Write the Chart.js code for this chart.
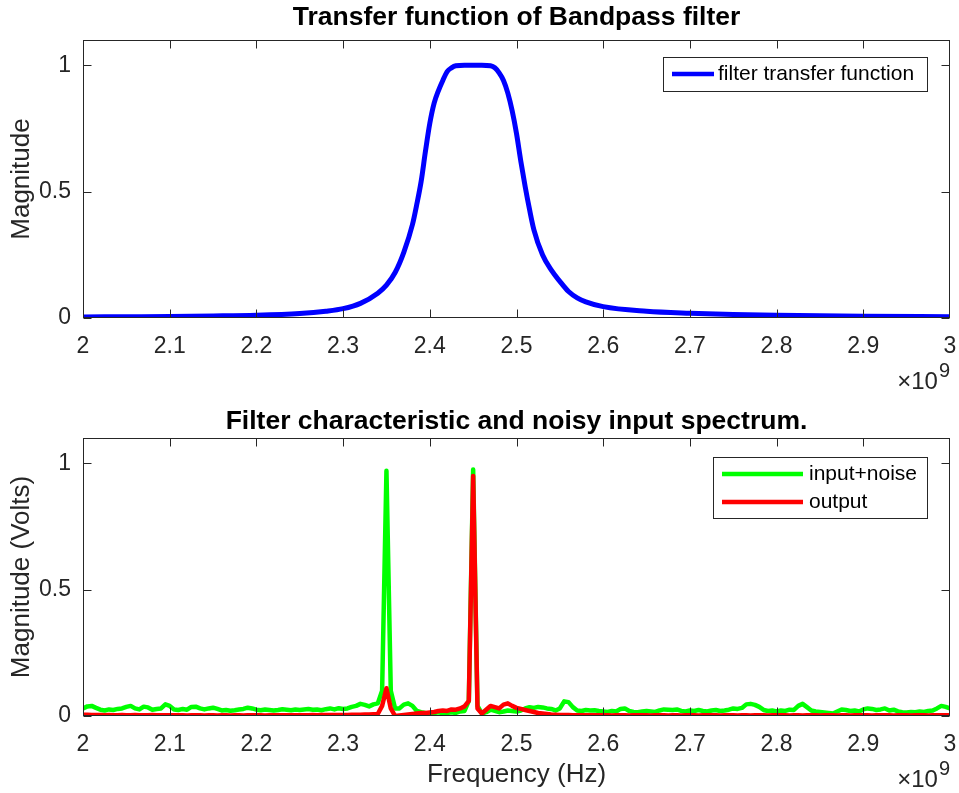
<!DOCTYPE html>
<html>
<head>
<meta charset="utf-8">
<script src="https://cdn.jsdelivr.net/npm/chart.js@4/dist/chart.umd.min.js"></script>
<style>
html,body{margin:0;padding:0;background:#fff;width:959px;height:793px;overflow:hidden}
#w1{position:absolute;left:0;top:0;width:959px;height:398px}
#w2{position:absolute;left:0;top:398px;width:959px;height:395px}
</style>
</head>
<body>
<div id="w1"><canvas id="c1" width="959" height="398"></canvas></div>
<div id="w2"><canvas id="c2" width="959" height="395"></canvas></div>
<script>
// ---------- DATA ----------
const xTicks = [2, 2.1, 2.2, 2.3, 2.4, 2.5, 2.6, 2.7, 2.8, 2.9, 3];
const yTicks = [0, 0.5, 1];

// Top: filter transfer function (frequency in units of 1e9 Hz)
const tfFreq = [2.00,2.05,2.10,2.15,2.20,2.25,2.28,2.30,2.32,2.34,2.35,2.36,2.37,2.38,2.385,2.39,2.395,2.40,2.405,2.41,2.415,2.42,2.425,2.43,2.44,2.45,2.46,2.47,2.475,2.48,2.485,2.49,2.495,2.50,2.505,2.51,2.515,2.52,2.53,2.54,2.55,2.56,2.57,2.58,2.60,2.65,2.70,2.75,2.80,2.90,3.00];
const tfMag = [0.004,0.005,0.006,0.008,0.011,0.018,0.027,0.037,0.058,0.098,0.13,0.18,0.26,0.37,0.45,0.54,0.66,0.77,0.85,0.90,0.94,0.975,0.99,0.998,1.0,1.0,1.0,0.998,0.99,0.97,0.94,0.89,0.82,0.73,0.62,0.52,0.43,0.35,0.25,0.19,0.145,0.105,0.08,0.064,0.045,0.027,0.019,0.014,0.011,0.007,0.005];

// Bottom: spectrum sampled from 2.000 to 3.000 (x1e9 Hz) every 0.005
const specStart = 2.0, specStep = 0.005;
const inputNoise = [
0.030,0.038,0.040,0.032,0.025,0.022,0.026,0.024,0.028,0.030,
0.036,0.040,0.030,0.026,0.037,0.034,0.025,0.028,0.030,0.046,
0.040,0.026,0.024,0.028,0.025,0.036,0.037,0.030,0.026,0.030,
0.033,0.028,0.022,0.024,0.021,0.023,0.026,0.028,0.033,0.030,
0.025,0.023,0.026,0.024,0.022,0.024,0.027,0.025,0.023,0.026,
0.024,0.026,0.028,0.025,0.026,0.023,0.027,0.030,0.026,0.031,
0.028,0.030,0.036,0.040,0.048,0.044,0.038,0.046,0.050,0.100,
0.970,0.100,0.030,0.030,0.045,0.050,0.040,0.020,0.015,0.012,
0.010,0.012,0.015,0.010,0.012,0.015,0.012,0.018,0.020,0.060,
0.975,0.040,0.010,0.015,0.025,0.020,0.015,0.018,0.022,0.020,
0.018,0.022,0.030,0.035,0.032,0.036,0.034,0.030,0.028,0.022,
0.030,0.058,0.055,0.035,0.022,0.020,0.024,0.022,0.023,0.020,
0.018,0.016,0.020,0.018,0.028,0.030,0.020,0.016,0.015,0.018,
0.020,0.018,0.016,0.022,0.026,0.025,0.024,0.026,0.020,0.018,
0.022,0.020,0.024,0.020,0.018,0.022,0.024,0.020,0.022,0.025,
0.030,0.028,0.032,0.046,0.048,0.044,0.036,0.024,0.020,0.022,
0.018,0.022,0.020,0.025,0.024,0.040,0.048,0.035,0.022,0.018,
0.016,0.014,0.012,0.010,0.018,0.026,0.024,0.020,0.022,0.018,
0.026,0.030,0.028,0.024,0.026,0.030,0.022,0.025,0.018,0.015,
0.014,0.016,0.015,0.018,0.016,0.020,0.022,0.030,0.040,0.036,
0.030];
const outputSig = [
0.005,0.005,0.004,0.004,0.004,0.003,0.004,0.003,0.003,0.004,
0.003,0.003,0.004,0.003,0.003,0.003,0.004,0.003,0.003,0.003,
0.003,0.003,0.003,0.003,0.002,0.003,0.003,0.003,0.002,0.003,
0.003,0.002,0.003,0.003,0.002,0.003,0.003,0.002,0.003,0.003,
0.003,0.003,0.002,0.003,0.003,0.003,0.003,0.003,0.003,0.003,
0.003,0.003,0.003,0.004,0.003,0.004,0.004,0.004,0.004,0.004,
0.004,0.004,0.005,0.005,0.005,0.006,0.006,0.007,0.008,0.040,
0.110,0.030,0.000,0.002,0.004,0.006,0.008,0.010,0.012,0.012,
0.014,0.016,0.020,0.022,0.020,0.026,0.025,0.030,0.038,0.060,
0.950,0.030,0.010,0.025,0.040,0.035,0.030,0.045,0.050,0.040,
0.032,0.028,0.024,0.020,0.016,0.012,0.010,0.008,0.006,0.005,
0.004,0.004,0.004,0.003,0.003,0.003,0.003,0.003,0.003,0.003,
0.003,0.003,0.002,0.003,0.003,0.003,0.002,0.003,0.003,0.003,
0.003,0.002,0.003,0.003,0.003,0.002,0.003,0.003,0.002,0.003,
0.003,0.003,0.002,0.003,0.003,0.003,0.003,0.002,0.003,0.003,
0.003,0.002,0.003,0.003,0.002,0.003,0.003,0.003,0.002,0.003,
0.003,0.003,0.003,0.002,0.003,0.003,0.002,0.003,0.003,0.003,
0.002,0.003,0.003,0.003,0.002,0.003,0.003,0.002,0.003,0.003,
0.003,0.003,0.002,0.003,0.003,0.003,0.003,0.002,0.003,0.003,
0.003,0.002,0.003,0.003,0.003,0.002,0.003,0.003,0.003,0.003,
0.003];
const specFreq = inputNoise.map((_, i) => +(specStart + i * specStep).toFixed(3));

// ---------- STYLE / HELPERS ----------
const FONT = "'Liberation Sans', Arial, Helvetica, sans-serif";
const AX = '#262626';
const fmt = v => String(Math.round(v * 10) / 10);

const matlabPlugin = {
  id: 'matlab',
  afterDraw(chart, args, o) {
    const ctx = chart.ctx, a = chart.chartArea, xs = chart.scales.x, ys = chart.scales.y;
    ctx.save();
    ctx.strokeStyle = AX; ctx.lineWidth = 1;
    const L = Math.round(a.left) + 0.5, T = Math.round(a.top) + 0.5;
    const R = Math.round(a.right) - 0.5, B = Math.round(a.bottom) - 0.5;
    ctx.strokeRect(L, T, R - L, B - T);
    const tl = 8;
    ctx.beginPath();
    xs.ticks.forEach(t => {
      let p = Math.round(xs.getPixelForValue(t.value)) + 0.5;
      p = Math.min(Math.max(p, L), R);
      ctx.moveTo(p, B); ctx.lineTo(p, B - tl);
      ctx.moveTo(p, T); ctx.lineTo(p, T + tl);
    });
    ys.ticks.forEach(t => {
      const p = Math.round(ys.getPixelForValue(t.value)) + 0.5;
      ctx.moveTo(L, p); ctx.lineTo(L + tl, p);
      ctx.moveTo(R, p); ctx.lineTo(R - tl, p);
    });
    ctx.stroke();

    const cx = (a.left + a.right) / 2;
    // title
    ctx.fillStyle = '#000';
    ctx.font = 'bold 26.5px ' + FONT;
    ctx.textAlign = 'center'; ctx.textBaseline = 'middle';
    ctx.fillText(o.title, cx, o.titleY);
    // x label
    ctx.fillStyle = AX;
    if (o.xlabel) {
      ctx.font = '26px ' + FONT;
      ctx.fillText(o.xlabel, cx, a.bottom + 59);
    }
    // y label
    ctx.save();
    ctx.translate(22, (a.top + a.bottom) / 2);
    ctx.rotate(-Math.PI / 2);
    ctx.font = '26px ' + FONT;
    ctx.fillText(o.ylabel, 0, 0);
    ctx.restore();
    // exponent x10^9
    ctx.textAlign = 'right';
    ctx.font = '20px ' + FONT;
    ctx.fillText('9', a.right, a.bottom + 53);
    const w9 = ctx.measureText('9').width;
    ctx.font = '24px ' + FONT;
    ctx.fillText('\u00D710', a.right - w9 - 1, a.bottom + 64);

    // legend
    const lg = o.legend;
    ctx.fillStyle = '#fff';
    ctx.fillRect(lg.x, lg.y, lg.w, lg.h);
    ctx.strokeStyle = AX; ctx.lineWidth = 1;
    ctx.strokeRect(lg.x + 0.5, lg.y + 0.5, lg.w, lg.h);
    ctx.font = '21px ' + FONT;
    ctx.textAlign = 'left'; ctx.textBaseline = 'middle';
    lg.items.forEach((idx, k) => {
      const ds = chart.data.datasets[idx];
      const yy = lg.y + lg.first + k * lg.gap;
      ctx.strokeStyle = ds.borderColor; ctx.lineWidth = 4.5; ctx.lineCap = 'butt';
      ctx.beginPath(); ctx.moveTo(lg.x + lg.l0, yy); ctx.lineTo(lg.x + lg.l1, yy); ctx.stroke();
      ctx.fillStyle = '#000';
      ctx.fillText(ds.label, lg.x + lg.tx, yy);
    });
    ctx.restore();
  }
};

const zeroPad = s => { s.paddingLeft = 0; s.paddingRight = 0; s.paddingTop = 0; s.paddingBottom = 0; };

function makeOptions(areaBottom, canvasH, pluginOpts) {
  return {
    responsive: false, animation: false, devicePixelRatio: 1,
    layout: { autoPadding: false, padding: { left: 0, right: 9, top: 40, bottom: 0 } },
    plugins: { legend: { display: false }, tooltip: { enabled: false }, title: { display: false }, matlab: pluginOpts },
    elements: { point: { radius: 0 } },
    scales: {
      x: {
        type: 'linear', min: 2, max: 3,
        afterBuildTicks: s => { s.ticks = xTicks.map(v => ({ value: v })); },
        afterFit: s => { s.height = canvasH - areaBottom; zeroPad(s); },
        grid: { display: false, drawTicks: false }, border: { display: false },
        ticks: { padding: 15, color: AX, font: { family: FONT, size: 23 }, maxRotation: 0, autoSkip: false, callback: v => fmt(v) }
      },
      y: {
        type: 'linear', min: 0, max: 1.1,
        afterBuildTicks: s => { s.ticks = yTicks.map(v => ({ value: v })); },
        afterFit: s => { s.width = 83; zeroPad(s); },
        grid: { display: false, drawTicks: false }, border: { display: false },
        ticks: { padding: 12, color: AX, font: { family: FONT, size: 23 }, callback: v => fmt(v) }
      }
    }
  };
}

new Chart(document.getElementById('c1'), {
  type: 'line',
  data: {
    datasets: [{
      label: 'filter transfer function',
      data: tfFreq.map((f, i) => ({ x: f, y: tfMag[i] })),
      borderColor: '#0000ff', borderWidth: 5, cubicInterpolationMode: 'monotone',
      borderJoinStyle: 'round', fill: false
    }]
  },
  options: makeOptions(318, 398, {
    title: 'Transfer function of Bandpass filter', titleY: 18,
    ylabel: 'Magnitude', xlabel: '',
    legend: { x: 663, y: 57, w: 264, h: 34, first: 17, gap: 28, l0: 9, l1: 51, tx: 55, items: [0] }
  }),
  plugins: [matlabPlugin]
});

new Chart(document.getElementById('c2'), {
  type: 'line',
  data: {
    datasets: [{
      label: 'input+noise',
      data: specFreq.map((f, i) => ({ x: f, y: inputNoise[i] })),
      borderColor: '#00ff00', borderWidth: 4.5, borderJoinStyle: 'round', tension: 0, fill: false, order: 2
    }, {
      label: 'output',
      data: specFreq.map((f, i) => ({ x: f, y: outputSig[i] })),
      borderColor: '#ff0000', borderWidth: 4.5, borderJoinStyle: 'round', tension: 0, fill: false, order: 1
    }]
  },
  options: makeOptions(318, 395, {
    title: 'Filter characteristic and noisy input spectrum.', titleY: 24,
    ylabel: 'Magnitude (Volts)', xlabel: 'Frequency (Hz)',
    legend: { x: 713, y: 59, w: 214, h: 61, first: 17, gap: 28, l0: 9, l1: 90, tx: 96, items: [0, 1] }
  }),
  plugins: [matlabPlugin]
});
</script>
</body>
</html>
